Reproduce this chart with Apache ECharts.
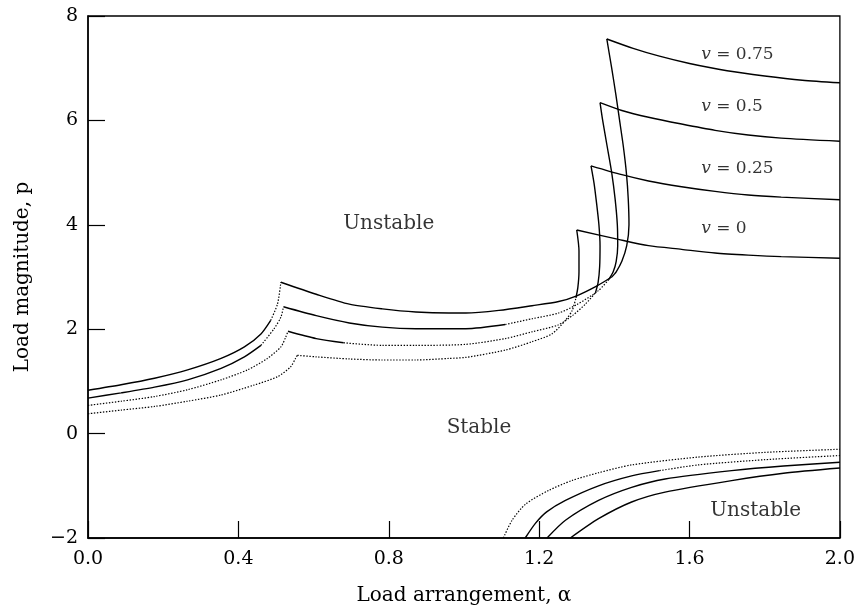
<!DOCTYPE html>
<html>
<head>
<meta charset="utf-8">
<script src="https://cdn.jsdelivr.net/npm/echarts@6/dist/echarts.min.js"></script>
<style>
  html, body { margin: 0; padding: 0; background: #fff; }
  #chart { width: 858px; height: 611px; }
</style>
</head>
<body>
<div id="chart"></div>
<script>
// Axis ranges and ticks
const xTicks = [0.0, 0.4, 0.8, 1.2, 1.6, 2.0];
const yTicks = [-2, 0, 2, 4, 6, 8];

// Stability boundaries, [alpha, p] pairs, one family per Poisson ratio.
// nu = 0.75
const nu075Left      = [[0,0.83],[0.088,0.935],[0.177,1.06],[0.265,1.22],[0.354,1.44],[0.416,1.66],[0.46,1.91],[0.486,2.17]];
const nu075LeftTip   = [[0.486,2.17],[0.504,2.48],[0.513,2.90]];
const nu075Middle    = [[0.513,2.90],[0.607,2.67],[0.695,2.48],[0.783,2.39],[0.872,2.33],[0.96,2.31],[1.005,2.31],[1.093,2.36],[1.181,2.45],[1.252,2.53],[1.30,2.64],[1.354,2.83],[1.393,3.0]];
const nu075Rise      = [[1.393,3.0],[1.405,3.1],[1.42,3.3],[1.433,3.6],[1.439,4.0],[1.437,4.5],[1.432,5.0],[1.424,5.5],[1.414,6.0],[1.404,6.5],[1.393,7.0],[1.38,7.56]];
const nu075Right     = [[1.38,7.56],[1.45,7.38],[1.52,7.23],[1.6,7.09],[1.7,6.95],[1.8,6.85],[1.9,6.77],[2.0,6.72]];
// nu = 0.5
const nu05Left       = [[0,0.68],[0.088,0.78],[0.177,0.89],[0.265,1.03],[0.354,1.25],[0.416,1.47],[0.46,1.69]];
const nu05LeftTip    = [[0.46,1.69],[0.495,2.01],[0.513,2.23],[0.52,2.43]];
const nu05Middle     = [[0.52,2.43],[0.607,2.26],[0.695,2.12],[0.783,2.04],[0.872,2.01],[1.005,2.01],[1.11,2.09]];
const nu05MiddleEnd  = [[1.11,2.09],[1.181,2.20],[1.252,2.31],[1.30,2.47],[1.358,2.74],[1.385,2.95]];
const nu05Rise       = [[1.385,2.95],[1.397,3.1],[1.405,3.3],[1.409,3.6],[1.408,4.0],[1.402,4.5],[1.393,5.0],[1.381,5.5],[1.369,6.0],[1.362,6.34]];
const nu05Right      = [[1.362,6.34],[1.42,6.19],[1.491,6.06],[1.579,5.93],[1.668,5.81],[1.756,5.72],[1.844,5.66],[2.0,5.60]];
// nu = 0.25
const nu025Left      = [[0,0.54],[0.088,0.62],[0.177,0.71],[0.265,0.84],[0.354,1.03],[0.424,1.22],[0.477,1.44],[0.513,1.66],[0.526,1.85],[0.532,1.96]];
const nu025Middle    = [[0.532,1.96],[0.607,1.82],[0.68,1.74]];
const nu025MiddleEnd = [[0.68,1.74],[0.783,1.69],[0.872,1.69],[1.005,1.71],[1.11,1.82],[1.181,1.95],[1.25,2.08],[1.29,2.27],[1.323,2.48],[1.35,2.70]];
const nu025Rise      = [[1.35,2.70],[1.357,2.9],[1.361,3.2],[1.362,3.6],[1.359,4.0],[1.353,4.4],[1.346,4.8],[1.338,5.13]];
const nu025Right     = [[1.338,5.13],[1.42,4.96],[1.491,4.84],[1.579,4.73],[1.668,4.64],[1.756,4.57],[1.844,4.53],[2.0,4.48]];
// nu = 0
const nu0Left        = [[0,0.38],[0.088,0.45],[0.177,0.52],[0.265,0.62],[0.354,0.74],[0.442,0.93],[0.504,1.09],[0.539,1.28],[0.552,1.44],[0.557,1.50]];
const nu0Middle      = [[0.557,1.50],[0.607,1.47],[0.695,1.43],[0.783,1.41],[0.872,1.41],[0.96,1.44],[1.005,1.46],[1.11,1.60],[1.181,1.76],[1.234,1.91],[1.27,2.17],[1.288,2.36],[1.298,2.6]];
const nu0Rise        = [[1.298,2.6],[1.303,2.8],[1.306,3.1],[1.306,3.5],[1.30,3.90]];
const nu0Right       = [[1.30,3.90],[1.411,3.72],[1.491,3.60],[1.579,3.53],[1.668,3.46],[1.756,3.42],[1.844,3.39],[2.0,3.36]];

// Tensile-side boundaries (lower right)
const lowerA         = [[1.105,-2],[1.128,-1.66],[1.164,-1.35],[1.225,-1.09],[1.287,-0.9],[1.358,-0.75],[1.446,-0.6],[1.623,-0.45],[1.8,-0.36],[2.0,-0.30]];
const lowerB         = [[1.163,-2],[1.19,-1.72],[1.22,-1.5],[1.27,-1.28],[1.358,-1.0],[1.446,-0.81],[1.52,-0.71]];
const lowerBEnd      = [[1.52,-0.71],[1.623,-0.6],[1.8,-0.5],[2.0,-0.42]];
const lowerC         = [[1.221,-2],[1.27,-1.66],[1.358,-1.28],[1.446,-1.03],[1.535,-0.87],[1.712,-0.71],[1.85,-0.62],[2.0,-0.55]];
const lowerD         = [[1.283,-2],[1.358,-1.63],[1.446,-1.31],[1.535,-1.12],[1.712,-0.90],[1.85,-0.76],[2.0,-0.66]];

// Which pieces are drawn solid and which dotted
const solidPieces  = [nu075Left, nu075Middle, nu075Rise, nu075Right, nu05Left, nu05Middle, nu05Rise, nu05Right,
                      nu025Middle, nu025Rise, nu025Right, nu0Rise, nu0Right, lowerB, lowerC, lowerD];
const dottedPieces = [nu075LeftTip, nu05LeftTip, nu05MiddleEnd, nu025Left, nu025MiddleEnd,
                      nu0Left, nu0Middle, lowerA, lowerBEnd];

// Curve labels and region names
const curveLabels = [
  { name: '0.75', value: [1.631, 7.27] },
  { name: '0.5',  value: [1.631, 6.26] },
  { name: '0.25', value: [1.631, 5.08] },
  { name: '0',    value: [1.631, 3.93] }
];
const regionLabels = [
  { name: 'Unstable', value: [0.80, 4.02] },
  { name: 'Stable',   value: [1.04, 0.11] },
  { name: 'Unstable', value: [1.776, -1.47] }
];

const FONT = '"DejaVu Serif", "Liberation Serif", serif';
const INK = '#000';

function piece(data, dotted) {
  return {
    type: 'line',
    data: data,
    showSymbol: false,
    smooth: 0.25,
    silent: true,
    lineStyle: { color: INK, width: dotted ? 1.2 : 1.4, type: dotted ? [1.4, 1.6] : 'solid' }
  };
}

const series = [];
solidPieces.forEach(d => series.push(piece(d, false)));
dottedPieces.forEach(d => series.push(piece(d, true)));

series.push({
  type: 'scatter',
  data: curveLabels,
  symbolSize: 0,
  silent: true,
  itemStyle: { color: 'transparent' },
  label: {
    show: true,
    position: 'right',
    distance: 0,
    formatter: p => '{i|v} = ' + p.name,
    color: INK,
    textBorderWidth: 0,
    fontFamily: FONT,
    fontSize: 17,
    rich: { i: { fontStyle: 'italic', fontFamily: FONT, fontSize: 17, color: INK, textBorderWidth: 0 } }
  }
});
series.push({
  type: 'scatter',
  data: regionLabels,
  symbolSize: 0,
  silent: true,
  itemStyle: { color: 'transparent' },
  label: {
    show: true,
    position: 'inside',
    formatter: p => p.name,
    color: INK,
    textBorderWidth: 0,
    fontFamily: FONT,
    fontSize: 20
  }
});

const chart = echarts.init(document.getElementById('chart'), null, { renderer: 'canvas' });
chart.setOption({
  animation: false,
  backgroundColor: '#fff',
  grid: { left: 88, right: 16, top: 16, bottom: 70, show: true, borderColor: INK, borderWidth: 1.3 },
  xAxis: {
    type: 'value',
    min: xTicks[0], max: xTicks[xTicks.length - 1], interval: 0.4,
    name: 'Load arrangement, α',
    nameLocation: 'middle',
    nameGap: 48,
    nameTextStyle: { fontFamily: FONT, fontSize: 20, color: INK },
    axisLine: { onZero: false, lineStyle: { color: INK, width: 1.5 } },
    axisTick: { inside: true, length: 17, lineStyle: { color: INK, width: 1.2 } },
    axisLabel: { margin: 12, fontFamily: FONT, fontSize: 19, color: INK, formatter: v => v.toFixed(1) },
    splitLine: { show: false }
  },
  yAxis: {
    type: 'value',
    min: yTicks[0], max: yTicks[yTicks.length - 1], interval: 2,
    name: 'Load magnitude, p',
    nameLocation: 'middle',
    nameGap: 55,
    nameTextStyle: { fontFamily: FONT, fontSize: 20, color: INK },
    axisLine: { onZero: false, lineStyle: { color: INK, width: 1.5 } },
    axisTick: { inside: true, length: 17, lineStyle: { color: INK, width: 1.2 } },
    axisLabel: { margin: 10, fontFamily: FONT, fontSize: 19, color: INK, formatter: v => String(v).replace('-', '\u2212') },
    splitLine: { show: false }
  },
  series: series
});
</script>
</body>
</html>
